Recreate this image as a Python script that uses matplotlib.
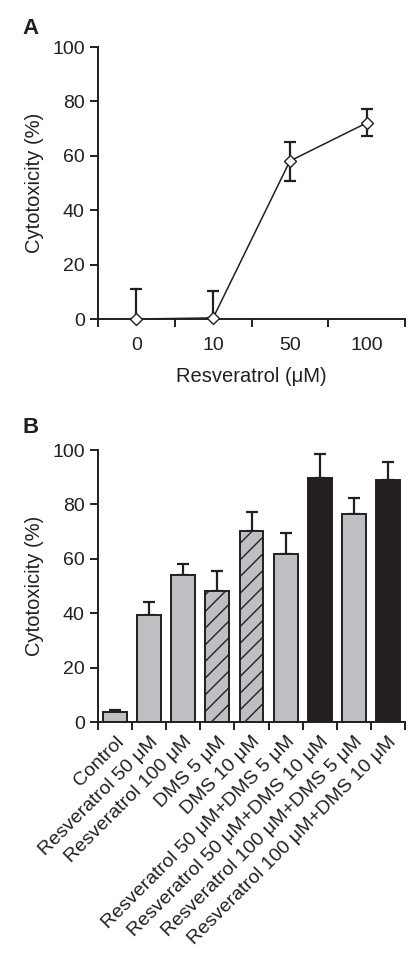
import matplotlib.pyplot as plt

plt.rcParams['font.family'] = ['Liberation Sans', 'DejaVu Sans']
plt.rcParams['hatch.linewidth'] = 1.0

# panel A
doses = ['0', '10', '50', '100']
tox_a = [0.0, 0.4, 58.1, 72.1]
err_a_up = [11.1, 10.0, 7.0, 5.1]
err_a_dn = [0.0, 0.0, 7.3, 4.7]

# panel B
groups = ['Control', 'Resveratrol 50 \u03bcM', 'Resveratrol 100 \u03bcM', 'DMS 5 \u03bcM',
          'DMS 10 \u03bcM', 'Resveratrol 50 \u03bcM+DMS 5 \u03bcM',
          'Resveratrol 50 \u03bcM+DMS 10 \u03bcM', 'Resveratrol 100 \u03bcM+DMS 5 \u03bcM',
          'Resveratrol 100 \u03bcM+DMS 10 \u03bcM']
tox_b = [3.5, 39.5, 54.2, 48.3, 70.4, 61.9, 89.8, 76.3, 89.1]
err_b = [0.8, 4.6, 3.9, 7.3, 6.8, 7.6, 8.7, 6.0, 6.5]
kind_b = ['gray', 'gray', 'gray', 'hatch', 'hatch', 'gray', 'black', 'gray', 'black']

fig = plt.figure(figsize=(4.16, 9.72), dpi=100)
dark = '#231f20'
gray = '#bdbfc3'
fs = 14


def style(ax):
    for s in ['top', 'right']:
        ax.spines[s].set_visible(False)
    for s in ['left', 'bottom']:
        ax.spines[s].set_linewidth(1.4)
        ax.spines[s].set_color(dark)
    ax.tick_params(width=1.4, length=6, color=dark, labelsize=fs, labelcolor=dark)
    ax.set_ylim(0, 100)
    ax.set_yticks([0, 20, 40, 60, 80, 100])
    ax.set_ylabel('Cytotoxicity (%)', fontsize=14.5, color=dark, labelpad=6)


axa = fig.add_axes([0.2356, 0.6718, 0.738, 0.2798])
style(axa)
xa = list(range(len(doses)))
axa.plot(xa, tox_a, color=dark, lw=1.1, zorder=2)
axa.errorbar(xa, tox_a, yerr=[err_a_dn, err_a_up], fmt='none', ecolor=dark,
             elinewidth=1.6, capsize=4.5, capthick=1.6, zorder=1)
axa.plot(xa, tox_a, ls='none', marker='D', ms=6.5, mfc='white', mec=dark, mew=1.0,
         zorder=3, clip_on=False)
axa.set_xlim(-0.5, 3.5)
axa.set_xticks([i - 0.5 for i in range(len(doses) + 1)])
axa.set_xticklabels([])
axa.set_xticks(xa, minor=True)
axa.set_xticklabels(doses, minor=True)
axa.tick_params(axis='x', which='minor', length=0, labelsize=fs, pad=13, labelcolor=dark)
axa.set_xlabel('Resveratrol (\u03bcM)', fontsize=14.5, color=dark, labelpad=9)
fig.text(0.055, 0.9707, 'A', fontsize=16, fontweight='bold', color=dark, va='center')

axb = fig.add_axes([0.2356, 0.2572, 0.738, 0.2798])
style(axb)
xb = list(range(len(groups)))
for i in xb:
    if kind_b[i] == 'black':
        fc, h = dark, None
    elif kind_b[i] == 'hatch':
        fc, h = gray, '//'
    else:
        fc, h = gray, None
    axb.bar(xb[i], tox_b[i], width=0.7, color=fc, edgecolor=dark, lw=1.4, hatch=h, zorder=2)
axb.errorbar(xb, tox_b, yerr=[[0] * len(err_b), err_b], fmt='none', ecolor=dark,
             elinewidth=1.6, capsize=4.5, capthick=1.6, zorder=1)
axb.set_xlim(-0.5, 8.5)
axb.set_xticks([i - 0.5 for i in range(len(groups) + 1)])
axb.set_xticklabels([])
axb.set_xticks(xb, minor=True)
axb.set_xticklabels(groups, minor=True, rotation=45, ha='right', rotation_mode='anchor')
axb.tick_params(axis='x', which='minor', length=0, labelsize=14, pad=8, labelcolor=dark)
fig.text(0.055, 0.5597, 'B', fontsize=16, fontweight='bold', color=dark, va='center')

fig.savefig('out.png', dpi=100)
